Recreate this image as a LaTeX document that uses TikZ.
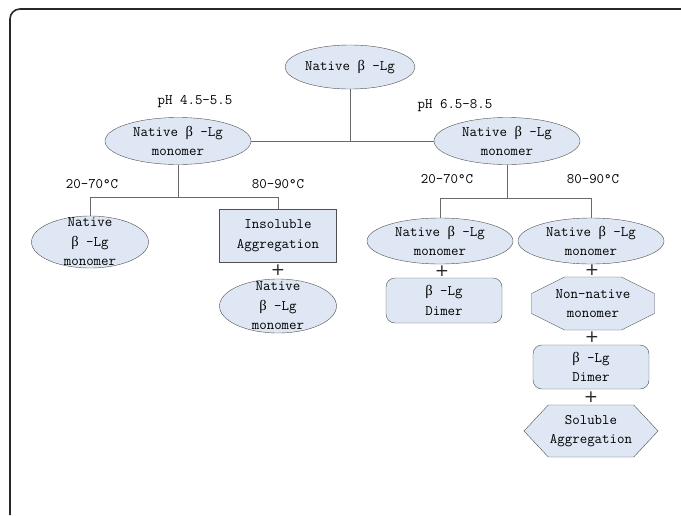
\documentclass[tikz,border=0pt]{standalone}
\usepackage{fontspec}
\newfontfamily\betafont{Liberation Serif}
\newfontfamily\plusfont{DejaVu Sans}
\newcommand{\bet}{{\betafont β}}
\usetikzlibrary{positioning,shapes.geometric,shapes.symbols,calc}
\definecolor{boxfill}{RGB}{222,231,243}
\definecolor{boxline}{RGB}{80,80,80}
\definecolor{treeline}{RGB}{105,105,105}

\begin{document}
\begin{tikzpicture}[x=1pt,y=-1pt,
font=\ttfamily\fontsize{14.5}{19.5}\selectfont,
tree/.style={
  draw=treeline,
  line width=0.9pt},
blob/.style={
  ellipse,
  draw=boxline,
  fill=boxfill,
  align=center,
  inner sep=0pt,
  minimum width=146pt,
  minimum height=47pt},
tallblob/.style={
  blob,
  minimum width=117pt,
  minimum height=52pt,
  inner ysep=-14pt},
plainbox/.style={
  rectangle,
  draw=boxline,
  fill=boxfill,
  align=center,
  minimum width=117pt,
  minimum height=53pt},
roundbox/.style={
  plainbox,
  rounded corners=9pt,
  minimum width=116pt,
  minimum height=44pt},
octline/.style={
  draw=boxline,
  fill=boxfill},
textbox/.style={
  align=center,
  inner sep=0pt,
  minimum width=123pt,
  minimum height=53pt},
hexbox/.style={
  signal,
  signal to=west and east,
  signal pointer angle=94,
  draw=boxline,
  fill=boxfill,
  align=center,
  inner sep=0pt,
  minimum width=134pt,
  minimum height=52pt},
plus/.style={
  inner sep=0pt,
  text={rgb,255:red,40;green,40;blue,40},
  font=\plusfont\fontsize{17}{17}\selectfont}
]
\useasboundingbox (0,0) rectangle (681,515);
\draw[line width=1.6pt, draw={rgb,255:red,40;green,40;blue,40}, rounded corners=10pt]
  (10,515) -- (10,9) -- (681,9);
% top level
\node[blob, minimum width=130pt, minimum height=44pt] (top) at (350,67) {Native \bet{} -Lg};
\node[blob] (acid) at (178,141) {Native \bet{} -Lg\\monomer};
\node[blob] (neut) at (507,141) {Native \bet{} -Lg\\monomer};
\node [above=6pt of acid.north, xshift=17pt] (phacid) {pH 4.5-5.5};
\node [above=2pt of neut.north, xshift=-52pt] (phneut) {pH 6.5-8.5};
% pH 4.5-5.5 branch
\node[tallblob] (acidlow) at (90,242) {Native\\\bet{} -Lg\\monomer};
\node[plainbox] (insol) at (278,235.5) {Insoluble\\Aggregation};
\node[tallblob, minimum height=54pt] (acidmono) at (278,306) {Native\\\bet{} -Lg\\monomer};
\node (acidcool) at (92,184) {20-70°C};
\node (acidhot) at (278,184) {80-90°C};
% pH 6.5-8.5 branch
\node[blob, minimum height=46pt] (neutlow) at (440,241) {Native \bet{} -Lg\\monomer};
\node[blob, minimum height=46pt] (neuthigh) at (591,241) {Native \bet{} -Lg\\monomer};
\node[roundbox, minimum height=45pt] (dimerlow) at (444,300.5) {\bet{} -Lg\\Dimer};
\coordinate (octc) at (593,303.5);
\draw[octline] ($(octc)+(-28.5,-26.5)$) -- ++(57,0) -- ++(33,16.5) -- ++(0,20)
  -- ++(-33,16.5) -- ++(-57,0) -- ++(-33,-16.5) -- ++(0,-20) -- cycle;
\node[textbox] (nonnat) at (octc) {Non-native\\monomer};
\node[roundbox] (dimerhigh) at (591,367) {\bet{} -Lg\\Dimer};
\node[hexbox] (soluble) at (591,431) {Soluble\\Aggregation};
\node (neutcool) at (447,179) {20-70°C};
\node (neuthot) at (593,179) {80-90°C};
% connectors
\draw[tree] (top.south) -- (top.south |- acid.east);
\draw[tree] (acid.east) -- (neut.west);
\draw[tree] (acid.south) -- ++(0,33) coordinate (acidfork);
\draw[tree] (acidlow.north) |- (acidfork) -| (insol.north);
\draw[tree] (neut.south) -- ++(0,34) coordinate (neutfork);
\draw[tree] (neutlow.north) |- (neutfork) -| (neuthigh.north);
\node[plus] (plusa) at ($(insol.south)!.5!(acidmono.north)$) {+};
\node[plus] (plusb) at ($(neutlow.south)!.5!(dimerlow.north)$) {+};
\node[plus] (plusc) at ($(neuthigh.south)!.5!(nonnat.north)$) {+};
\node[plus] (plusd) at ($(nonnat.south)!.5!(dimerhigh.north)$) {+};
\node[plus] (pluse) at ($(dimerhigh.south)!.5!(soluble.north)$) {+};
\end{tikzpicture}
\end{document}
